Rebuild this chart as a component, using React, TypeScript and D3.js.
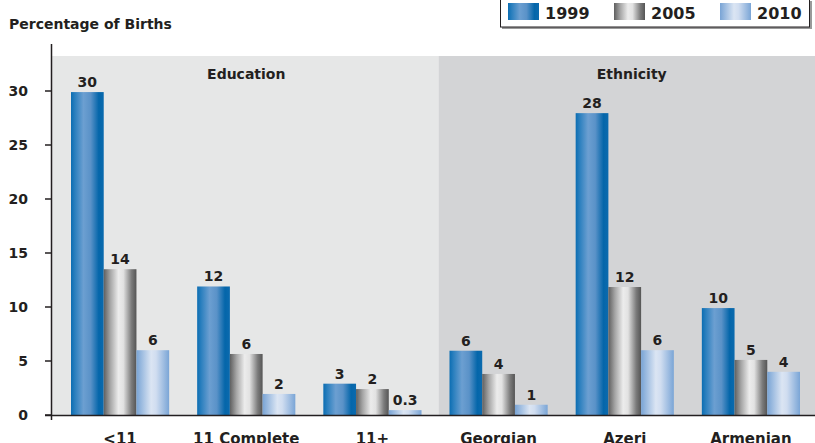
import React from "react";
import * as d3 from "d3";

const categories = ["<11", "11 Complete", "11+", "Georgian", "Azeri", "Armenian"];
const seriesNames = ["1999", "2005", "2010"];
const values1999 = [29.9, 11.9, 2.9, 5.95, 27.95, 9.9];
const values2005 = [13.5, 5.65, 2.4, 3.8, 11.85, 5.1];
const values2010 = [6.0, 1.95, 0.45, 0.95, 6.0, 4.0];
const labels1999 = ["30", "12", "3", "6", "28", "10"];
const labels2005 = ["14", "6", "2", "4", "12", "5"];
const labels2010 = ["6", "2", "0.3", "1", "6", "4"];
const yTicks = [0, 5, 10, 15, 20, 25, 30];
const panels = [
  { name: "Education", from: 0, to: 2 },
  { name: "Ethnicity", from: 3, to: 5 },
];

const W = 815;
const H = 443;
const FONT = "'DejaVu Sans', Verdana, sans-serif";

export default function App() {
  const x0 = d3.scaleBand<string>().domain(categories).range([57, 814]).paddingInner(0.222).paddingOuter(0.111);
  const x1 = d3.scaleBand<string>().domain(seriesNames).range([0, x0.bandwidth()]);
  const y = d3.scaleLinear().domain([0, 30]).range([415, 91]);
  const series = [
    { name: "1999", values: values1999, labels: labels1999, grad: "g1999" },
    { name: "2005", values: values2005, labels: labels2005, grad: "g2005" },
    { name: "2010", values: values2010, labels: labels2010, grad: "g2010" },
  ];
  const step = x0.step();
  const half = (step - x0.bandwidth()) / 2;
  const panelBounds = panels.map((p, i) => {
    const left = i === 0 ? 52 : (x0(categories[p.from]) as number) - half + 3;
    const right = i === panels.length - 1 ? W : (x0(categories[p.to]) as number) + x0.bandwidth() + half + 3;
    return { ...p, left, right };
  });
  const panelFill = ["#e6e7e7", "#d3d4d6"];

  return (
    <svg width={W} height={H} style={{ position: "absolute", left: 0, top: 0, display: "block" }} fontFamily={FONT}>
      <defs>
        <linearGradient id="g1999" x1="0" x2="1" y1="0" y2="0">
          <stop offset="0" stopColor="#0b6db2" />
          <stop offset="0.12" stopColor="#2a7fbe" />
          <stop offset="0.38" stopColor="#6c9fd1" />
          <stop offset="0.6" stopColor="#5a92c8" />
          <stop offset="0.85" stopColor="#0466aa" />
          <stop offset="1" stopColor="#0b6aae" />
        </linearGradient>
        <linearGradient id="g2005" x1="0" x2="1" y1="0" y2="0">
          <stop offset="0" stopColor="#5f5f5f" />
          <stop offset="0.2" stopColor="#a5a5a5" />
          <stop offset="0.45" stopColor="#ececec" />
          <stop offset="0.6" stopColor="#e2e2e2" />
          <stop offset="0.85" stopColor="#7b7b7b" />
          <stop offset="1" stopColor="#555555" />
        </linearGradient>
        <linearGradient id="g2010" x1="0" x2="1" y1="0" y2="0">
          <stop offset="0" stopColor="#79a4d5" />
          <stop offset="0.45" stopColor="#dbe5f3" />
          <stop offset="0.6" stopColor="#d0ddf0" />
          <stop offset="1" stopColor="#7aa5d6" />
        </linearGradient>
      </defs>
      <rect x={0} y={0} width={W} height={H} fill="#ffffff" />

      {panelBounds.map((p, i) => (
        <g key={p.name}>
          <rect x={p.left} y={56} width={p.right - p.left} height={415 - 56} fill={panelFill[i]} />
        </g>
      ))}
      {panelBounds.map((p, i) => {
        const c = i === 0
          ? ((x0(categories[p.from]) as number) + (x0(categories[p.to]) as number) + x0.bandwidth()) / 2
          : ((x0(categories[p.from]) as number) + (x0(categories[p.to]) as number) + x0.bandwidth()) / 2 + 7;
        return (
          <text key={p.name} x={c} y={79} textAnchor="middle" fontSize={14} fontWeight="bold" fill="#231f20">
            {p.name}
          </text>
        );
      })}

      <text x={9} y={29} fontSize={14} fontWeight="bold" fill="#231f20">Percentage of Births</text>

      {series.map((s) =>
        categories.map((c, i) => {
          const bx = (x0(c) as number) + (x1(s.name) as number);
          const by = y(s.values[i]);
          return (
            <g key={s.name + c}>
              <rect x={bx} y={by} width={x1.bandwidth()} height={415 - by} fill={`url(#${s.grad})`} />
              <text x={bx + x1.bandwidth() / 2} y={by - 5} textAnchor="middle" fontSize={14} fontWeight="bold" fill="#231f20">
                {s.labels[i]}
              </text>
            </g>
          );
        })
      )}

      {/* axes */}
      <line x1={51.5} x2={51.5} y1={44} y2={420} stroke="#231f20" strokeWidth={1.5} />
      <line x1={45} x2={W} y1={415.5} y2={415.5} stroke="#231f20" strokeWidth={1.5} />
      {yTicks.map((t) => (
        <g key={t}>
          <line x1={45} x2={51} y1={y(t)} y2={y(t)} stroke="#231f20" strokeWidth={1.5} />
          <text x={28} y={y(t) + 5} textAnchor="end" fontSize={14} fontWeight="bold" fill="#231f20">{t}</text>
        </g>
      ))}
      {categories.map((c) => (
        <text key={c} x={(x0(c) as number) + x0.bandwidth() / 2} y={444} textAnchor="middle" fontSize={15} fontWeight="bold" fill="#231f20">
          {c}
        </text>
      ))}

      {/* legend */}
      <rect x={502} y={1} width={310} height={28} fill="#9a9a9a" />
      <rect x={500.5} y={-1} width={309} height={28} fill="#ffffff" stroke="#231f20" strokeWidth={1} />
      {series.map((s, i) => {
        const lx = 508 + i * 106;
        return (
          <g key={s.name}>
            <rect x={lx} y={3} width={31} height={17} fill={`url(#${s.grad})`} />
            <text x={lx + 37} y={19} fontSize={16} fontWeight="bold" fill="#231f20">{s.name}</text>
          </g>
        );
      })}
    </svg>
  );
}
